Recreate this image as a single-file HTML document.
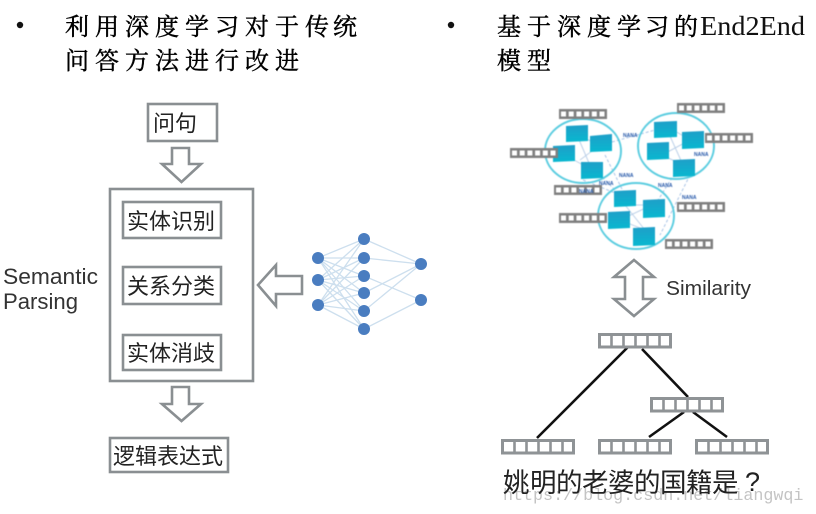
<!DOCTYPE html>
<html lang="zh">
<head>
<meta charset="utf-8">
<title>Diagram</title>
<style>
html,body{margin:0;padding:0;background:#fff;}
body{width:816px;height:514px;overflow:hidden;}
svg{display:block;}
.h{font-family:"Liberation Serif","Noto Serif CJK SC",serif;font-size:24px;fill:#000;stroke:#000;stroke-width:.45px;}
.c{font-family:"Liberation Sans","Noto Sans CJK SC",sans-serif;font-size:22px;fill:#222;}
.e{font-family:"Liberation Sans",sans-serif;font-size:22px;fill:#333;}
.n{font-family:"Liberation Sans",sans-serif;font-size:5px;font-weight:bold;fill:#2356a8;}
</style>
</head>
<body>
<svg width="816" height="514" viewBox="0 0 816 514" xmlns="http://www.w3.org/2000/svg">
<defs>
<linearGradient id="t" x1="0" y1="0" x2="0" y2="1"><stop offset="0" stop-color="#1f9fc8"/><stop offset="1" stop-color="#08b8d0"/></linearGradient>
<g id="sb">
<rect x="0" y="0" width="48" height="10" fill="#7f7f7f"/>
<rect x="2" y="2.500" width="5" height="5" fill="#fff"/><rect x="9.700" y="2.500" width="5" height="5" fill="#fff"/><rect x="17.400" y="2.500" width="5" height="5" fill="#fff"/><rect x="25.100" y="2.500" width="5" height="5" fill="#fff"/><rect x="32.800" y="2.500" width="5" height="5" fill="#fff"/><rect x="40.500" y="2.500" width="5" height="5" fill="#fff"/>
</g>
<g id="bb">
<rect x="1.500" y="1.500" width="71" height="12.500" fill="#fff" stroke="#8f9396" stroke-width="3"/>
<path d="M13.500 1V14M25.500 1V14M37.500 1V14M49.500 1V14M61.500 1V14" stroke="#8f9396" stroke-width="2.600" fill="none"/>
</g>
</defs>
<rect width="816" height="514" fill="#fff"/>

<!-- headers -->
<circle cx="20" cy="25" r="3.200" fill="#111"/>
<circle cx="451" cy="25" r="3.200" fill="#111"/>
<text class="h" x="65 95 125 155 185 215 245 275 305 333" y="35">利用深度学习对于传统</text>
<text class="h" x="65 95 125 155 185 215 245 275" y="69">问答方法进行改进</text>
<text class="h" x="497 527 557 587 617 645 674" y="35">基于深度学习的</text>
<text x="700" y="35" font-family="Liberation Serif,serif" font-size="27" fill="#111" textLength="105" lengthAdjust="spacingAndGlyphs">End2End</text>
<text class="h" x="497 527" y="69">模型</text>

<!-- left flow -->
<g fill="none" stroke="#8a8f92" stroke-width="2.600">
<rect x="148" y="104" width="69" height="37"/>
<rect x="110" y="189" width="143" height="192"/>
<rect x="123" y="202" width="98" height="36"/>
<rect x="123" y="267" width="98" height="37"/>
<rect x="123" y="335" width="98" height="35"/>
<rect x="110" y="438" width="118" height="34"/>
<path d="M172 148H189V164H201L181.500 182L162 164H172Z"/>
<path d="M172 387H189V404H201L181.500 421L162 404H172Z"/>
<path d="M258 285L276 265V276H302V294H276V306Z"/>
</g>
<text class="c" x="153" y="131">问句</text>
<text class="c" x="127" y="229">实体识别</text>
<text class="c" x="127" y="294">关系分类</text>
<text class="c" x="127" y="361">实体消歧</text>
<text class="c" x="113" y="464">逻辑表达式</text>
<text class="e" x="3" y="284" textLength="95" lengthAdjust="spacingAndGlyphs">Semantic</text>
<text class="e" x="3" y="309" textLength="75" lengthAdjust="spacingAndGlyphs">Parsing</text>

<!-- neural net -->
<g stroke="#cddfee" stroke-width="1.300" fill="none">
<path d="M318 258L364 239M318 258L364 258M318 258L364 276M318 258L364 293M318 258L364 311M318 258L364 329"/>
<path d="M318 280L364 239M318 280L364 258M318 280L364 276M318 280L364 293M318 280L364 311M318 280L364 329"/>
<path d="M318 305L364 239M318 305L364 258M318 305L364 276M318 305L364 293M318 305L364 311M318 305L364 329"/>
<path d="M364 239L421 264M364 258L421 264M364 276L421 300M364 293L421 264M364 311L421 264M364 329L421 300"/>
</g>
<g fill="#4a7dc0">
<circle cx="318" cy="258" r="6"/><circle cx="318" cy="280" r="6"/><circle cx="318" cy="305" r="6"/>
<circle cx="364" cy="239" r="6"/><circle cx="364" cy="258" r="6"/><circle cx="364" cy="276" r="6"/><circle cx="364" cy="293" r="6"/><circle cx="364" cy="311" r="6"/><circle cx="364" cy="329" r="6"/>
<circle cx="421" cy="264" r="6"/><circle cx="421" cy="300" r="6"/>
</g>

<!-- knowledge graph cluster -->
<g style="filter:blur(0.4px)">
<g stroke="#a9c4e6" stroke-width="1" fill="none" stroke-dasharray="3 2">
<path d="M612 142L655 130M605 155L625 195M595 170L615 190M680 165L655 205M690 175L660 235M583 180L620 195"/>
</g>
<g stroke="#bcd0e8" stroke-width="1" fill="none">
<path d="M577 135L592 170M600 145L580 160M577 135L600 145M565 155L592 170"/>
<path d="M665 125L683 165M690 140L662 155M665 125L690 140M662 155L683 165"/>
<path d="M625 205L645 230M652 205L620 220M625 205L652 205M620 220L645 230"/>
</g>
<g fill="none" stroke="#5ccde0" stroke-width="2">
<ellipse cx="583" cy="151" rx="38" ry="32"/>
<ellipse cx="676" cy="146" rx="38" ry="33"/>
<ellipse cx="636" cy="216" rx="38" ry="33"/>
</g>
<g fill="url(#t)">
<polygon points="566,126 588,125 588,141 566,142"/>
<polygon points="590,136 612,134 612,151 590,152"/>
<polygon points="553,146 575,145 575,161 553,162"/>
<polygon points="581,162 603,162 603,178 581,179"/>
<polygon points="654,122 677,121 677,137 654,138"/>
<polygon points="682,132 704,131 704,148 682,149"/>
<polygon points="647,143 669,142 669,159 647,160"/>
<polygon points="673,160 695,159 695,176 673,177"/>
<polygon points="614,191 636,190 636,206 614,207"/>
<polygon points="643,200 665,199 665,217 643,218"/>
<polygon points="608,212 630,211 630,228 608,229"/>
<polygon points="633,228 655,227 655,245 633,246"/>
</g>
<use href="#sb" x="559" y="109"/>
<use href="#sb" x="677" y="103"/>
<use href="#sb" x="705" y="133"/>
<use href="#sb" x="510" y="148"/>
<use href="#sb" x="554" y="185"/>
<use href="#sb" x="677" y="202"/>
<use href="#sb" x="559" y="213"/>
<use href="#sb" x="665" y="239"/>
<text class="n" x="623" y="137">NANA</text>
<text class="n" x="619" y="177">NANA</text>
<text class="n" x="599" y="185">NANA</text>
<text class="n" x="579" y="193">NANA</text>
<text class="n" x="694" y="156">NANA</text>
<text class="n" x="658" y="187">NANA</text>
<text class="n" x="682" y="199">NANA</text>
</g>

<!-- similarity arrow -->
<path d="M634 260L654 277H643V299H654L634 316L614 299H625V277H614Z" fill="none" stroke="#8a8f92" stroke-width="2.600"/>
<text x="666" y="295" font-family="Liberation Sans,sans-serif" font-size="20" fill="#333" textLength="85" lengthAdjust="spacingAndGlyphs">Similarity</text>

<!-- tree -->
<g stroke="#111" stroke-width="2.600" fill="none">
<path d="M628 347L537 438"/>
<path d="M642 349L688 397"/>
<path d="M684 412L649 437"/>
<path d="M693 412L727 437"/>
</g>
<use href="#bb" x="598" y="333"/>
<use href="#bb" x="650" y="397"/>
<use href="#bb" x="501" y="439"/>
<use href="#bb" x="598" y="439"/>
<use href="#bb" x="695" y="439"/>
<text x="503" y="500" font-family="Liberation Mono,monospace" font-size="16.700" fill="#c4c4c4">https://blog.csdn.net/liangwqi</text>
<text x="503 530 556 582 608 634 660 686 712" y="492" font-family="Liberation Sans,Noto Sans CJK SC,sans-serif" font-size="26.500" fill="#222">姚明的老婆的国籍是</text>
<text x="745" y="491" font-family="Liberation Sans,sans-serif" font-size="27" fill="#222">?</text>
</svg>
</body>
</html>
